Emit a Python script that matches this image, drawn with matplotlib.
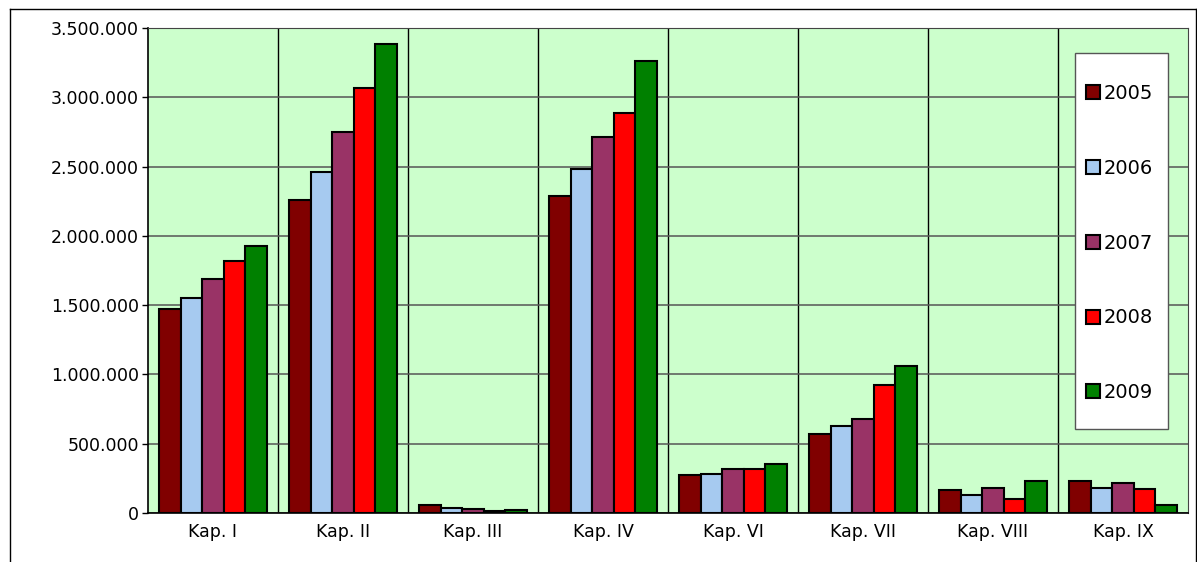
import matplotlib
matplotlib.use("Agg")
import matplotlib.pyplot as plt
import numpy as np
from matplotlib.ticker import FuncFormatter, MultipleLocator
from matplotlib.lines import Line2D
from matplotlib.patches import Rectangle

categories = ["Kap. I", "Kap. II", "Kap. III", "Kap. IV", "Kap. VI", "Kap. VII", "Kap. VIII", "Kap. IX"]
years = ["2005", "2006", "2007", "2008", "2009"]
v2005 = [1470000, 2256000, 55000, 2290000, 271000, 573000, 163000, 232000]
v2006 = [1555000, 2460000, 35000, 2480000, 283000, 630000, 132000, 178000]
v2007 = [1689000, 2750000, 27000, 2715000, 317000, 680000, 183000, 217000]
v2008 = [1820000, 3070000, 17000, 2885000, 317000, 925000, 100000, 173000]
v2009 = [1930000, 3385000, 20000, 3260000, 354000, 1060000, 232000, 56000]
series = [v2005, v2006, v2007, v2008, v2009]
colors = ["#800000", "#A6CAF0", "#993366", "#FF0000", "#008000"]

plt.rcParams['font.family'] = ['DejaVu Sans']

W, H = 1197, 562
fig = plt.figure(figsize=(W / 100, H / 100), dpi=100)
ax = fig.add_axes([148 / W, 49 / H, (1188 - 148) / W, (513 - 28) / H])
ax.set_facecolor("#CCFFCC")

x = np.arange(len(categories))
bw = 0.165
for i, (vals, c, y) in enumerate(zip(series, colors, years)):
    ax.bar(x + (i - 2) * bw, vals, width=bw, color=c, edgecolor="black",
           linewidth=1.5, label=y, zorder=3)

ax.set_xlim(-0.5, len(categories) - 0.5)
ax.set_ylim(0, 3500000)
ax.yaxis.set_major_locator(MultipleLocator(500000))
ax.yaxis.set_major_formatter(FuncFormatter(lambda v, p: f"{int(v):,}".replace(",", ".")))
ax.set_xticks(x)
ax.set_xticklabels(categories)
ax.set_xticks(np.arange(0.5, len(categories) - 0.5, 1), minor=True)
ax.tick_params(axis='x', which='both', length=0, labelsize=12.5, pad=7)
ax.tick_params(axis='y', length=4.5, width=1, labelsize=12.5, pad=2, direction='out')
ax.grid(axis='y', which='major', color="#555555", linewidth=1.1, zorder=1)
ax.grid(axis='x', which='minor', color="black", linewidth=1.0, zorder=1)
ax.set_axisbelow(True)
for s in ["top", "right"]:
    ax.spines[s].set_color("#444444")
    ax.spines[s].set_linewidth(0.8)
for s in ["left", "bottom"]:
    ax.spines[s].set_color("black")
    ax.spines[s].set_linewidth(1.2)

# legend box (drawn inside the axes so the legend can sit above it)
ax.add_patch(Rectangle((1075 / W, 1 - 429 / H), (1168 - 1075) / W, (429 - 53) / H,
                       transform=fig.transFigure, facecolor="white",
                       edgecolor="#555555", linewidth=1.0, zorder=6, clip_on=False))
leg = ax.legend(loc="upper left", bbox_to_anchor=(1086 / W, 1 - 84 / H),
                bbox_transform=fig.transFigure, borderaxespad=0, borderpad=0,
                fontsize=14, handlelength=0.72, handleheight=0.72,
                handletextpad=0.2, labelspacing=2.87, frameon=False)
leg.set_zorder(7)

# outer chart border
fig.add_artist(Line2D([10 / W, 1196 / W], [1 - 9 / H, 1 - 9 / H], color="black", linewidth=1.0, transform=fig.transFigure))
fig.add_artist(Line2D([10 / W, 10 / W], [0, 1 - 9 / H], color="black", linewidth=1.0, transform=fig.transFigure))
fig.add_artist(Line2D([1196 / W, 1196 / W], [0, 1 - 9 / H], color="black", linewidth=1.0, transform=fig.transFigure))

fig.savefig("out.png", dpi=100)
